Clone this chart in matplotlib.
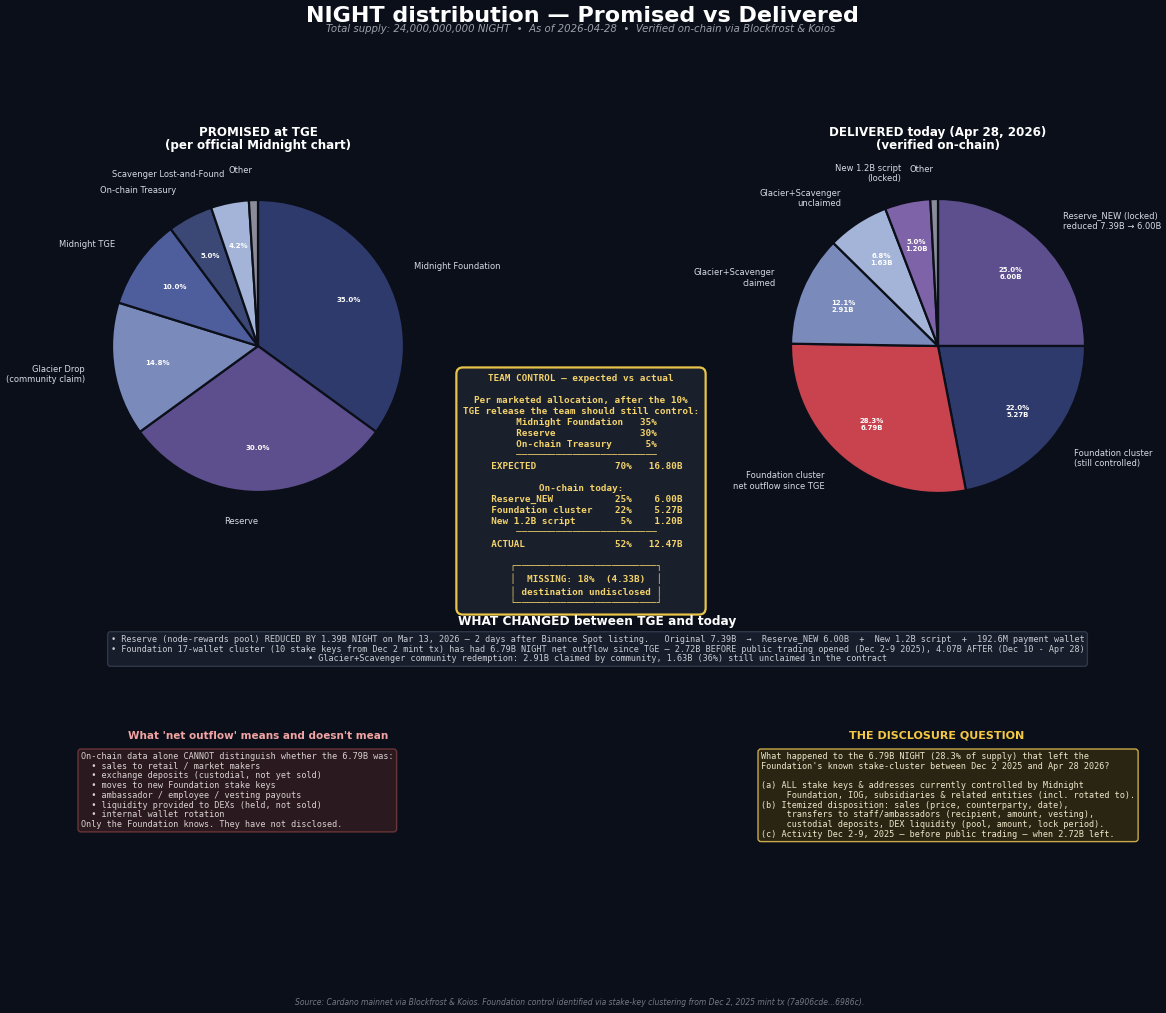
import matplotlib
matplotlib.use("Agg")
import matplotlib.pyplot as plt

W, H = 1166, 1013
BG = "#0b0f19"

# ---------------- data ----------------
promised_labels = ["Midnight Foundation", "Reserve", "Glacier Drop\n(community claim)",
                   "Midnight TGE", "On-chain Treasury", "Scavenger Lost-and-Found", "Other"]
promised_pct = [35.0, 30.0, 14.8, 10.0, 5.0, 4.2, 1.0]
promised_colors = ["#2e3a6c", "#5d4f8d", "#7a8bbb", "#4e5d9b", "#3b4775", "#a4b4d8", "#8b8b99"]

delivered_labels = ["Reserve_NEW (locked)\nreduced 7.39B \u2192 6.00B",
                    "Foundation cluster\n(still controlled)",
                    "Foundation cluster\nnet outflow since TGE",
                    "Glacier+Scavenger\nclaimed",
                    "Glacier+Scavenger\nunclaimed",
                    "New 1.2B script\n(locked)",
                    "Other"]
delivered_b = [6.00, 5.27, 6.79, 2.91, 1.63, 1.20, 0.20]
delivered_colors = ["#5d4f8d", "#2e3a6c", "#c8434e", "#7a8bbb", "#a4b4d8", "#7f63a8", "#8b8b99"]

team_box = "\n".join([
    "TEAM CONTROL \u2014 expected vs actual",
    "",
    "Per marketed allocation, after the 10%",
    "TGE release the team should still control:",
    "  Midnight Foundation   35%",
    "  Reserve               30%",
    "  On-chain Treasury      5%",
    "  " + "\u2500" * 25,
    "  EXPECTED              70%   16.80B",
    "",
    "On-chain today:",
    "  Reserve_NEW           25%    6.00B",
    "  Foundation cluster    22%    5.27B",
    "  New 1.2B script        5%    1.20B",
    "  " + "\u2500" * 25,
    "  ACTUAL                52%   12.47B",
    "",
    "  \u250c" + "\u2500" * 25 + "\u2510",
    "  \u2502  MISSING: 18%  (4.33B)  \u2502",
    "  \u2502 destination undisclosed \u2502",
    "  \u2514" + "\u2500" * 25 + "\u2518",
])

changes = "\n".join([
    "\u2022 Reserve (node-rewards pool) REDUCED BY 1.39B NIGHT on Mar 13, 2026 \u2014 2 days after Binance Spot listing.   "
    "Original 7.39B  \u2192  Reserve_NEW 6.00B  +  New 1.2B script  +  192.6M payment wallet",
    "\u2022 Foundation 17-wallet cluster (10 stake keys from Dec 2 mint tx) has had 6.79B NIGHT net outflow since TGE \u2014 "
    "2.72B BEFORE public trading opened (Dec 2-9 2025), 4.07B AFTER (Dec 10 - Apr 28)",
    "\u2022 Glacier+Scavenger community redemption: 2.91B claimed by community, 1.63B (36%) still unclaimed in the contract",
])

outflow_text = "\n".join([
    "On-chain data alone CANNOT distinguish whether the 6.79B was:",
    "  \u2022 sales to retail / market makers",
    "  \u2022 exchange deposits (custodial, not yet sold)",
    "  \u2022 moves to new Foundation stake keys",
    "  \u2022 ambassador / employee / vesting payouts",
    "  \u2022 liquidity provided to DEXs (held, not sold)",
    "  \u2022 internal wallet rotation",
    "Only the Foundation knows. They have not disclosed.",
])

disclosure_text = "\n".join([
    "What happened to the 6.79B NIGHT (28.3% of supply) that left the",
    "Foundation's known stake-cluster between Dec 2 2025 and Apr 28 2026?",
    "",
    "(a) ALL stake keys & addresses currently controlled by Midnight",
    "     Foundation, IOG, subsidiaries & related entities (incl. rotated to).",
    "(b) Itemized disposition: sales (price, counterparty, date),",
    "     transfers to staff/ambassadors (recipient, amount, vesting),",
    "     custodial deposits, DEX liquidity (pool, amount, lock period).",
    "(c) Activity Dec 2-9, 2025 \u2014 before public trading \u2014 when 2.72B left.",
])

# ---------------- figure ----------------
fig = plt.figure(figsize=(W / 100, H / 100), dpi=100, facecolor=BG)


def fx(x):
    return x / W


def fy(y):
    return 1 - y / H


def pie_axes(cx, cy, r):
    ax = fig.add_axes([(cx - r) / W, 1 - (cy + r) / H, 2 * r / W, 2 * r / H])
    ax.set_facecolor(BG)
    ax.axis("off")
    return ax


MONO = "DejaVu Sans Mono"
LBL = "#d6dae4"

# title
fig.text(fx(582), fy(16), "NIGHT distribution \u2014 Promised vs Delivered", ha="center", va="center",
         color="white", fontsize=16, fontweight="bold")
fig.text(fx(581), fy(29), "Total supply: 24,000,000,000 NIGHT  \u2022  As of 2026-04-28  \u2022  Verified on-chain via Blockfrost & Koios",
         ha="center", va="center", color="#9aa0ad", fontsize=7.3, style="italic")

wedge_kw = dict(edgecolor="#0b0f19", linewidth=1.6)

# left pie
axL = pie_axes(258, 346, 146)
wl, tl, al = axL.pie(promised_pct, labels=promised_labels, colors=promised_colors, startangle=90,
                     counterclock=False, labeldistance=1.2, pctdistance=0.7,
                     autopct=lambda p: f"{p:.1f}%" if p > 2 else "", wedgeprops=wedge_kw,
                     textprops=dict(color=LBL, fontsize=6))
for t in al:
    t.set_color("white")
    t.set_fontsize(5)
    t.set_fontweight("bold")
axL.set_xlim(-1, 1)
axL.set_ylim(-1, 1)
fig.text(fx(258), fy(139), "PROMISED at TGE\n(per official Midnight chart)", ha="center", va="center",
         color="white", fontsize=8.6, fontweight="bold", linespacing=1.08)

# right pie
total = sum(delivered_b)
axR = pie_axes(938, 346, 147)
wr, tr, ar = axR.pie(delivered_b, labels=delivered_labels, colors=delivered_colors, startangle=90,
                     counterclock=False, labeldistance=1.2, pctdistance=0.7,
                     autopct=lambda p: f"{p:.1f}%\n{p * total / 100:.2f}B" if p > 2 else "",
                     wedgeprops=wedge_kw, textprops=dict(color=LBL, fontsize=6))
for t in ar:
    t.set_color("white")
    t.set_fontsize(5)
    t.set_fontweight("bold")
axR.set_xlim(-1, 1)
axR.set_ylim(-1, 1)
fig.text(fx(938), fy(139), "DELIVERED today (Apr 28, 2026)\n(verified on-chain)", ha="center", va="center",
         color="white", fontsize=8.6, fontweight="bold", linespacing=1.08)

# center box
fig.text(fx(581), fy(491), team_box, ha="center", va="center", multialignment="center",
         family=MONO, fontsize=6.7, fontweight="bold", color="#f3d36b", linespacing=1.29,
         bbox=dict(boxstyle="round,pad=0.7", fc="#1a1f2c", ec="#e8c44a", lw=1.6))

# what changed
fig.text(fx(597), fy(622), "WHAT CHANGED between TGE and today", ha="center", va="center",
         color="white", fontsize=8.7, fontweight="bold")
fig.text(fx(597.5), fy(649), changes, ha="center", va="center", multialignment="center",
         family=MONO, fontsize=6.15, color="#c9ccd4", linespacing=1.12,
         bbox=dict(boxstyle="round,pad=0.35", fc="#171d2a", ec="#2f3849", lw=1))

# bottom left
fig.text(fx(258), fy(736), "What 'net outflow' means and doesn't mean", ha="center", va="center",
         color="#f2a3a3", fontsize=7.5, fontweight="bold")
fig.text(fx(81), fy(752), outflow_text, ha="left", va="top", family=MONO, fontsize=6.15,
         color="#d9d2d2", linespacing=1.1,
         bbox=dict(boxstyle="round,pad=0.35", fc="#2a191e", ec="#6b3539", lw=1))

# bottom right
fig.text(fx(937), fy(736), "THE DISCLOSURE QUESTION", ha="center", va="center",
         color="#f5c843", fontsize=8, fontweight="bold")
fig.text(fx(761), fy(752), disclosure_text, ha="left", va="top", family=MONO, fontsize=6.15,
         color="#efe6c9", linespacing=1.1,
         bbox=dict(boxstyle="round,pad=0.35", fc="#2a2513", ec="#c9a94a", lw=1))

# footer
fig.text(fx(580), fy(1002), "Source: Cardano mainnet via Blockfrost & Koios. Foundation control identified via stake-key "
         "clustering from Dec 2, 2025 mint tx (7a906cde...6986c).", ha="center", va="center",
         color="#737985", fontsize=5.5, style="italic")

fig.savefig("out.png", dpi=100, facecolor=BG)
